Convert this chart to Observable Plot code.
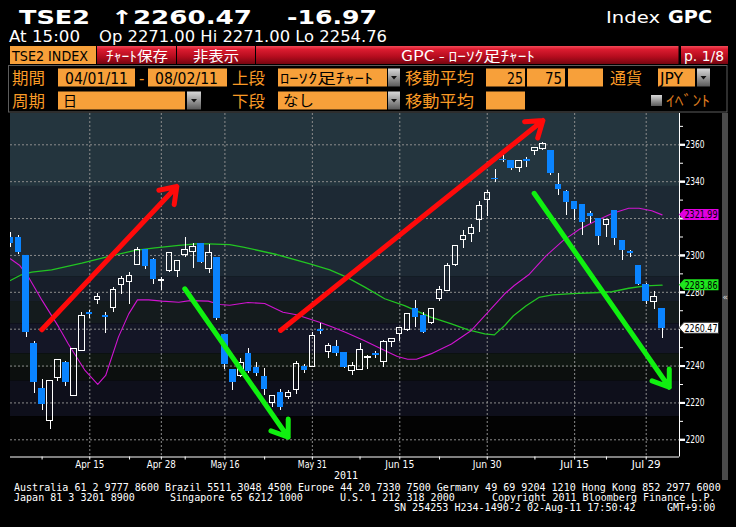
<!DOCTYPE html>
<html><head><meta charset="utf-8">
<script src="https://cdn.jsdelivr.net/npm/d3@7"></script>
<script src="https://cdn.jsdelivr.net/npm/@observablehq/plot@0.6"></script>
<style>
html,body{margin:0;padding:0;background:#000;width:736px;height:527px;overflow:hidden;}
#wrap{position:relative;width:736px;height:527px;}
#chrome{position:absolute;left:0;top:0;}
#chart{position:absolute;left:0;top:111px;}
</style></head>
<body><div id="wrap"><svg id="chrome" width="736" height="527"></svg><div id="chart"></div></div>
<script>
// ---- data (trading-day index 0 = 04/01/11 ... 82 = 08/02/11) ----
const openV = [2309.7,2309.2,2299.6,2251.7,2227.3,2210.3,2233.6,2241.4,2224.0,2248.1,
  2269.0,2275.7,2267.4,2271.6,2284.1,2285.5,2294.9,2303.2,2297.3,2286.0,
  2291.6,2291.6,2300.3,2301.8,2306.3,2292.5,2298.5,2256.6,2238.1,2234.5,
  2246.8,2239.0,2233.8,2220.0,2225.5,2223.1,2226.9,2239.7,2239.4,2259.6,
  2247.5,2250.1,2247.3,2237.2,2237.9,2244.1,2246.3,2242.3,2253.3,2257.6,
  2259.3,2270.8,2267.2,2263.3,2276.1,2280.6,2294.7,2308.1,2311.7,2319.1,
  2330.0,2341.6,2351.9,2351.0,2347.6,2351.7,2356.9,2357.5,2356.9,2338.0,
  2334.2,2328.8,2327.2,2322.2,2319.5,2316.3,2324.0,2307.9,2301.8,2294.1,
  2283.7,2274.5,2271.0];
const highV = [2312.6,2310.8,2300.0,2253.3,2232.7,2232.0,2243.4,2242.5,2249.7,2269.2,
  2270.1,2279.2,2269.2,2282.8,2288.8,2290.9,2304.5,2303.2,2298.5,2288.2,
  2301.4,2297.1,2309.7,2306.3,2306.3,2305.9,2298.5,2256.6,2238.1,2243.9,
  2249.3,2241.7,2238.7,2223.6,2227.3,2226.7,2242.6,2240.8,2258.0,2262.9,
  2252.4,2253.9,2247.3,2241.7,2252.0,2245.5,2247.9,2253.9,2254.6,2260.7,
  2268.0,2275.5,2269.2,2271.0,2283.1,2295.4,2305.2,2313.5,2316.8,2329.4,
  2335.2,2346.4,2354.2,2351.0,2351.0,2353.3,2358.2,2361.1,2356.9,2344.7,
  2335.3,2328.8,2327.2,2323.6,2319.5,2319.1,2324.0,2307.9,2302.5,2294.4,
  2284.7,2280.7,2271.0];
const lowV = [2304.5,2300.5,2255.3,2225.3,2215.9,2205.4,2231.8,2228.9,2223.5,2247.9,
  2266.0,2273.4,2257.8,2269.2,2278.8,2273.2,2294.9,2292.2,2284.1,2281.0,
  2290.6,2288.2,2299.1,2292.7,2295.8,2290.4,2264.7,2238.3,2226.7,2234.0,
  2236.1,2234.3,2224.0,2217.7,2215.9,2222.0,2224.5,2236.1,2239.4,2257.1,
  2244.3,2245.2,2238.7,2234.9,2237.9,2237.9,2244.3,2239.4,2249.9,2253.3,
  2258.7,2261.1,2257.8,2262.7,2275.2,2280.6,2294.2,2303.9,2307.2,2312.6,
  2321.1,2339.7,2350.2,2346.1,2345.2,2347.6,2354.2,2356.9,2343.1,2332.3,
  2321.8,2319.1,2310.6,2317.3,2305.2,2309.7,2305.2,2297.1,2298.9,2283.8,
  2273.4,2270.6,2254.76];
const closeV = [2306.5,2301.6,2258.4,2231.2,2219.3,2232.0,2243.4,2231.2,2249.0,2267.4,
  2268.5,2277.2,2266.7,2281.0,2287.0,2289.1,2302.7,2294.2,2287.1,2286.6,
  2301.4,2297.1,2303.2,2304.7,2296.7,2301.4,2266.0,2241.0,2231.2,2241.7,
  2237.2,2236.1,2227.4,2223.6,2217.7,2225.5,2241.2,2237.8,2256.2,2258.9,
  2251.1,2247.0,2239.4,2240.1,2248.8,2244.8,2245.9,2253.0,2254.6,2260.7,
  2268.0,2266.5,2258.4,2271.0,2281.0,2294.2,2305.2,2310.3,2315.0,2326.9,
  2334.0,2341.2,2351.5,2347.6,2351.0,2351.3,2358.2,2360.5,2344.7,2335.9,
  2329.0,2325.0,2318.2,2321.4,2310.6,2319.1,2309.6,2303.1,2301.1,2284.7,
  2275.2,2277.44,2260.47];

// 25-day moving average (magenta), read at day positions
const ma25Idx = [0,1.2,2.3,4.0,6.1,7.3,9.4,11.0,12.0,13.6,14.9,16.0,17.4,19.1,21.2,22.6,24.9,26.4,27.6,29.9,32.0,34.3,36.0,38.9,40.6,42.3,44.5,47.1,48.7,50.0,51.1,52.9,55.5,58.0,60.1,62.2,63.4,65.3,67.4,69.5,71.6,73.7,75.7,77.8,79.1,80.7,82];
const ma25Val = [2298.2,2294.5,2288.2,2275.6,2261.1,2252.0,2237.6,2230.0,2234.9,2255.7,2268.3,2275.9,2275.9,2275.2,2274.6,2275.5,2275.2,2273.4,2273.0,2274.5,2273.9,2269.2,2267.8,2263.8,2261.1,2258.0,2253.9,2248.4,2245.2,2243.7,2243.7,2246.6,2252.0,2259.3,2269.2,2279.2,2283.7,2289.8,2299.8,2307.9,2314.2,2318.8,2322.7,2325.6,2325.6,2324.2,2321.99];
// 75-day moving average (green)
const ma75Idx = [0,1.4,2.7,5.2,9.0,12.3,15.7,18.2,21.2,23.4,24.9,27.6,29.3,33.5,37.7,40.2,42.3,44.6,47.1,49.6,52.9,55.5,57.6,59.7,60.9,62.2,63.3,64.9,66.5,68.2,70.7,74.1,75.7,77.8,79.9,82];
const ma75Val = [2286.4,2289.5,2290.9,2292.2,2295.8,2299.4,2302.7,2304.1,2305.4,2306.3,2306.3,2305.9,2304.5,2300.5,2295.4,2292.2,2288.2,2282.8,2276.5,2272.8,2266.5,2262.9,2259.6,2257.5,2256.9,2262.0,2267.3,2272.7,2277.2,2278.6,2279.3,2279.9,2280.3,2282.2,2283.5,2283.86];

// date axis
const tickIdx = [10,19,27,38,49,60,71,80];
const tickLabels = ["Apr 15","Apr 28","May 16","May 31","Jun 15","Jun 30","Jul 15","Jul 29"];
const minorIdx = [4,15,22,32,44,54,66,75];
const yGridVals = [2200,2220,2240,2260,2280,2300,2320,2340,2360];
const yLabelVals = [2200,2220,2240,2280,2300,2340,2360]; // 2260 and 2320 sit under the last-value boxes
const yMajorTickVals = [2200,2220,2240,2260,2280,2300,2320,2340,2360];
const yMinorVals = [2210,2230,2250,2270,2290,2310,2330,2350,2370];

// hand-drawn trend arrows (day index, price)
const redArrows = [{i1:3.96,v1:2259.7,i2:20.95,v2:2337.4},{i1:34.0,v1:2259.3,i2:67.0,v2:2373.2}];
const greenArrows = [{i1:21.95,v1:2281.9,i2:34.96,v2:2201.4},{i1:65.9,v1:2333.7,i2:82.9,v2:2228.5}];

// last values shown on the price axis
const lastLabels = [{v:2321.99, t:"2321.99", fill:"#e000e0"},{v:2283.86, t:"2283.86", fill:"#1ee61e"},{v:2260.47, t:"2260.47", fill:"#ffffff"}];

// ---- chrome (header / footer) ----
const svg = d3.select("#chrome");
const defs = svg.append("defs");
const rg = defs.append("linearGradient").attr("id","red").attr("x1",0).attr("x2",0).attr("y1",0).attr("y2",1);
[[0,"#f24a58"],[0.18,"#dc1c30"],[0.6,"#b40c1e"],[1,"#760510"]].forEach(([o,c])=>rg.append("stop").attr("offset",o).attr("stop-color",c));
const gg = defs.append("linearGradient").attr("id","gray").attr("x1",0).attr("x2",0).attr("y1",0).attr("y2",1);
[[0,"#d8d8d8"],[0.5,"#9a9a9a"],[1,"#5a5a5a"]].forEach(([o,c])=>gg.append("stop").attr("offset",o).attr("stop-color",c));
const ORANGE = "#f7a03a", OTXT = "#f99a26";
const CJK = "'Noto Sans CJK JP', sans-serif", SANS = "'DejaVu Sans', sans-serif", MONO = "'DejaVu Sans Mono', monospace";
function txt(x,y,s,o={}){const t=svg.append("text").attr("x",x).attr("y",y).text(s)
  .attr("fill",o.fill||"#fff").attr("font-family",o.font||SANS).attr("font-size",o.size||14)
  .attr("font-weight",o.weight||"normal");
  if(o.len) t.attr("textLength",o.len).attr("lengthAdjust","spacingAndGlyphs");
  if(o.anchor) t.attr("text-anchor",o.anchor); return t;}
function rect(x,y,w,h,fill,stroke){return svg.append("rect").attr("x",x).attr("y",y).attr("width",w).attr("height",h).attr("fill",fill).attr("stroke",stroke||"none");}
function drop(x,y,w,h){rect(x,y,w,h,"url(#gray)");
  svg.append("path").attr("d",`M${x+w/2-3},${y+h/2-1.5}h6l-3,3.5z`).attr("fill","#111");}

// header line 1
txt(19,24,"TSE2",{weight:"bold",size:19,len:71});
txt(111,24,"↑2260.47",{weight:"bold",size:19,len:141});
txt(287,24,"-16.97",{weight:"bold",size:19,len:90});
txt(606,23,"Index",{size:16,len:54});
txt(668,23,"GPC",{size:17,weight:"bold",len:44});
// header line 2
txt(9,42,"At 15:00",{size:16,len:71});
txt(99,42,"Op 2271.00 Hi 2271.00 Lo 2254.76",{size:16,len:288});
// toolbar
rect(10,46,86,18,ORANGE);
txt(12,60.5,"TSE2 INDEX",{fill:"#000",size:14,len:76});
rect(97,46,79,18,"url(#red)"); rect(177,46,78,18,"url(#red)");
rect(256,46,422.5,18,"url(#red)"); rect(681,46,47,18,"url(#red)");
txt(106,60.5,"ﾁｬｰﾄ保存",{font:CJK,size:14,len:62});
txt(193,60.5,"非表示",{font:CJK,size:14,len:46});
txt(468,60.5,"GPC - ﾛｰｿｸ足ﾁｬｰﾄ",{font:CJK,size:14,len:134,anchor:"middle"});
txt(684,60.5,"p. 1/8",{size:14,len:40});
// settings panel
rect(8.5,65.5,718.5,46.5,"none","#5c5c5c");
const rA=84, rB=107;
txt(12,rA,"期間",{font:CJK,size:16,fill:OTXT,len:33});
rect(58,68.5,77,18,ORANGE); txt(65,rA,"04/01/11",{fill:"#000",size:15,len:63});
txt(139,rA,"-",{fill:OTXT,size:15});
rect(148,68.5,79,18,ORANGE); txt(155,rA,"08/02/11",{fill:"#000",size:15,len:63});
txt(232,rA,"上段",{font:CJK,size:16,fill:OTXT,len:33});
rect(278,68.5,109,18,ORANGE); txt(280,rA-1,"ﾛｰｿｸ足ﾁｬｰﾄ",{font:CJK,fill:"#000",size:14,len:93});
drop(388,68.5,12,18);
txt(405,rA,"移動平均",{font:CJK,size:16,fill:OTXT,len:69});
rect(486,68.5,39,18,ORANGE); txt(507,rA,"25",{fill:"#000",size:15,len:16});
rect(527,68.5,38,18,ORANGE); txt(545,rA,"75",{fill:"#000",size:15,len:17});
rect(568,68.5,35,18,ORANGE);
txt(610,rA,"通貨",{font:CJK,size:16,fill:OTXT,len:32});
rect(658,68.5,37,18,ORANGE); txt(660,rA,"JPY",{fill:"#000",size:15,len:23});
drop(697,68.5,13,18);
txt(12,rB,"周期",{font:CJK,size:16,fill:OTXT,len:33});
rect(58,91.5,127,18,ORANGE); txt(63,rB-1,"日",{font:CJK,fill:"#000",size:14});
drop(187,91.5,14,18);
txt(232,rB,"下段",{font:CJK,size:16,fill:OTXT,len:33});
rect(278,91.5,109,18,ORANGE); txt(283,rB-1,"なし",{font:CJK,fill:"#000",size:15,len:31});
drop(388,91.5,12,18);
txt(405,rB,"移動平均",{font:CJK,size:16,fill:OTXT,len:69});
rect(486,91.5,39,18,ORANGE);
rect(651,95,11,11,"url(#gray)");
txt(666,rB-1,"ｲﾍﾞﾝﾄ",{font:CJK,size:15,fill:"#d9781e",len:44});
// right scroll strip
rect(722,113,6,367,"#4a4a4a");
txt(722.5,300,"«",{size:9,fill:"#ddd"});
// footer
txt(346,479,"2011",{font:MONO,size:10,anchor:"middle",len:24});
const cw=6.04;
function foot(x,y,s){txt(x,y,s,{font:MONO,size:10,len:s.length*cw});}
foot(14,491,"Australia 61 2 9777 8600 Brazil 5511 3048 4500 Europe 44 20 7330 7500 Germany 49 69 9204 1210 Hong Kong 852 2977 6000");
foot(14,501,"Japan 81 3 3201 8900");
foot(170,501,"Singapore 65 6212 1000");
foot(340,501,"U.S. 1 212 318 2000");
foot(492,501,"Copyright 2011 Bloomberg Finance L.P.");
foot(394,511,"SN 254253 H234-1490-2 02-Aug-11 17:50:42");
foot(667,511,"GMT+9:00");

// ---- chart ----
const rows = openV.map((o,i)=>({i,o,h:highV[i],l:lowV[i],c:closeV[i]}));
const up = rows.filter(d=>d.c>=d.o), down = rows.filter(d=>d.c<d.o);
const ma25 = ma25Idx.map((i,k)=>({i,v:ma25Val[k]}));
const ma75 = ma75Idx.map((i,k)=>({i,v:ma75Val[k]}));
const XD=[0.025,84.19], YD=[2190.67,2376.98];
const bands = [
  {y1:2337.4,y2:YD[1],c:"#24353e"},{y1:2288.2,y2:2337.4,c:"#1d2934"},
  {y1:2275.0,y2:2288.2,c:"#171e2a"},{y1:2262.9,y2:2275.0,c:"#141b1d"},
  {y1:2246.6,y2:2262.9,c:"#141626"},{y1:2238.8,y2:2246.6,c:"#101712"},
  {y1:2231.8,y2:2238.8,c:"#0c0f0e"},{y1:2212.6,y2:2231.8,c:"#0e0f1b"},
  {y1:YD[0],y2:2212.6,c:"#030303"}];
const BLUE="#0a84ff", GRID="#8c8c8c", hw=0.34;
const plot = Plot.plot({
  width:736, height:416, marginLeft:10, marginRight:57, marginTop:2, marginBottom:70.5,
  style:{background:"transparent", color:"#fff", fontFamily:SANS, fontSize:"10.5px"},
  x:{type:"linear", domain:XD, axis:null, label:null},
  y:{domain:YD, axis:null, label:null},
  color:{type:"identity"},
  marks:[
    Plot.rect(bands,{x1:()=>XD[0],x2:()=>XD[1],y1:"y1",y2:"y2",fill:"c"}),
    Plot.ruleY(yGridVals,{stroke:GRID,strokeDasharray:"2,2"}),
    Plot.ruleX(tickIdx,{stroke:GRID,strokeDasharray:"2,2"}),
    Plot.line(ma75,{x:"i",y:"v",stroke:"#22c422",strokeWidth:1.3,clip:true}),
    Plot.line(ma25,{x:"i",y:"v",stroke:"#d014d0",strokeWidth:1.1,clip:true}),
    Plot.ruleX(rows,{x:"i",y1:d=>Math.max(d.o,d.c),y2:"h",stroke:"#fff",clip:true,shapeRendering:"crispEdges"}),
    Plot.ruleX(rows,{x:"i",y1:"l",y2:d=>Math.min(d.o,d.c),stroke:"#fff",clip:true,shapeRendering:"crispEdges"}),
    Plot.rect(down,{x1:d=>d.i-hw,x2:d=>d.i+hw,y1:"o",y2:"c",fill:BLUE,stroke:BLUE,clip:true,shapeRendering:"crispEdges"}),
    Plot.rect(up,{x1:d=>d.i-hw,x2:d=>d.i+hw,y1:"o",y2:"c",fill:"none",stroke:"#fff",clip:true,shapeRendering:"crispEdges"}),
    Plot.arrow(redArrows,{x1:"i1",y1:"v1",x2:"i2",y2:"v2",stroke:"#ff0a0a",strokeWidth:5,headLength:5.5,headAngle:70}),
    Plot.arrow(greenArrows,{x1:"i1",y1:"v1",x2:"i2",y2:"v2",stroke:"#10f010",strokeWidth:5,headLength:5.5,headAngle:70}),
    Plot.ruleX([XD[1]],{stroke:"#fff"}),
    Plot.ruleY([YD[0]],{stroke:"#fff"}),
    Plot.axisY({anchor:"right",ticks:yMinorVals,tickSize:3,tickFormat:()=>"",color:"#fff"}),
    Plot.axisY({anchor:"right",ticks:yMajorTickVals,tickSize:5,strokeWidth:2,tickFormat:()=>"",color:"#fff"}),
    Plot.axisY({anchor:"right",ticks:yLabelVals,tickSize:5,tickPadding:1,strokeWidth:2,tickFormat:d=>String(d),color:"#fff"}),
    Plot.axisX({anchor:"bottom",ticks:minorIdx,tickSize:3,tickFormat:()=>"",color:"#fff"}),
    Plot.axisX({anchor:"bottom",ticks:tickIdx,tickSize:3,tickPadding:1,tickFormat:d=>tickLabels[tickIdx.indexOf(d)],color:"#fff"})
  ]
});
document.getElementById("chart").appendChild(plot);
const P = d3.select(plot);
P.selectAll('g[aria-label="y-axis tick label"] text').filter(function(){return this.textContent!=="";}).attr("textLength",19).attr("lengthAdjust","spacingAndGlyphs");
P.selectAll('g[aria-label="x-axis tick label"] text').filter(function(){return this.textContent!=="";}).attr("textLength",29).attr("lengthAdjust","spacingAndGlyphs");
const ys = plot.scale("y"), xs = plot.scale("x");
const xr = xs.apply(XD[1]);
const lg = P.append("g").attr("text-anchor","start");
lastLabels.forEach(d=>{
  const yc = ys.apply(d.v);
  lg.append("path").attr("d",`M${xr},${yc}L${xr+5},${yc-5.5}H${xr+39.5}V${yc+5.5}H${xr+5}Z`)
    .attr("fill",d.fill).attr("stroke",d.fill==="#ffffff"?"#333":"none");
  lg.append("text").attr("x",xr+5.5).attr("y",yc+4).attr("text-anchor","start").text(d.t).attr("fill","#000")
    .attr("font-family",SANS).attr("font-size",11).attr("textLength",33).attr("lengthAdjust","spacingAndGlyphs");
});
</script></body></html>
